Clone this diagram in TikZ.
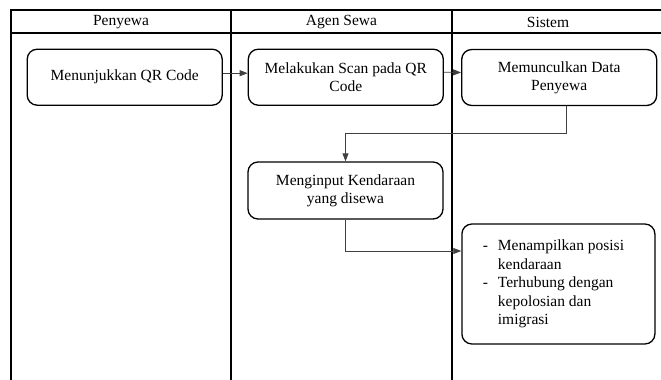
\documentclass[tikz,border=0pt]{standalone}
\usepackage{fontspec}
\newfontfamily\timesfont{Liberation Serif}
\usepackage{tikz}
\usetikzlibrary{positioning}
\usetikzlibrary{arrows.meta}

\begin{document}
\begin{tikzpicture}[x=1pt, y=-1pt,
    lane/.style={black, line width=2.4pt},
    proses/.style={draw, black, line width=1.3pt, rounded corners=10pt, align=center,
                   minimum width=195pt, minimum height=56pt, inner sep=2pt},
    alur/.style={black!75, line width=0.8pt, -{Triangle[length=8pt,width=6pt]}},
    font=\timesfont\fontsize{15.5}{18.4}\selectfont]
				    		\useasboundingbox (0,0) rectangle (661,380);
				    		\draw[lane] (11,380)--(11,10)--(661,10);
				    		\draw[lane] (11,33)--(661,33);
				    		\draw[lane] (231,10)--(231,380);
				    		\draw[lane] (452,10)--(452,380);
				    		\node (penyewa) at (121,22) {Penyewa};
				    		\node (agen) at (341.5,22) {Agen Sewa};
				    		\node (sistem) at (548,22) {Sistem};
				    		\node[proses] (tunjuk) at (124.7,77.2) {Menunjukkan QR Code};
				    		\node[proses] (scan) at (345.8,77.2) {Melakukan Scan pada QR\\Code};
				    		\node[proses] (data) at (559.2,77.5) {Memunculkan Data\\Penyewa};
				    		\node[proses, minimum height=57pt] (input) at (345.5,190.5) {Menginput Kendaraan\\yang disewa};
				    		\node[proses, minimum width=193pt, minimum height=120pt] (posisi) at (558.4,284)
				    		  {\begin{tabular}{@{}l@{\hspace{10pt}}l@{\hspace{10pt}}}
				    		    - & Menampilkan posisi\\
				    		      & kendaraan\\
				    		    - & Terhubung dengan\\
				    		      & kepolosian dan\\
				    		      & imigrasi
				    		   \end{tabular}};
				    		\draw[alur] ([yshift=4pt]tunjuk.east)--([yshift=4pt]scan.west);
				    		\draw[alur] ([yshift=5pt]scan.east)--([yshift=5pt]data.west);
				    		\draw[alur] ([xshift=7pt]data.south)--++(0,27)-|(input.north);
				    		\draw[alur] (input.south)|-([yshift=33pt]posisi.west);
				    	\end{tikzpicture}
\end{document}
